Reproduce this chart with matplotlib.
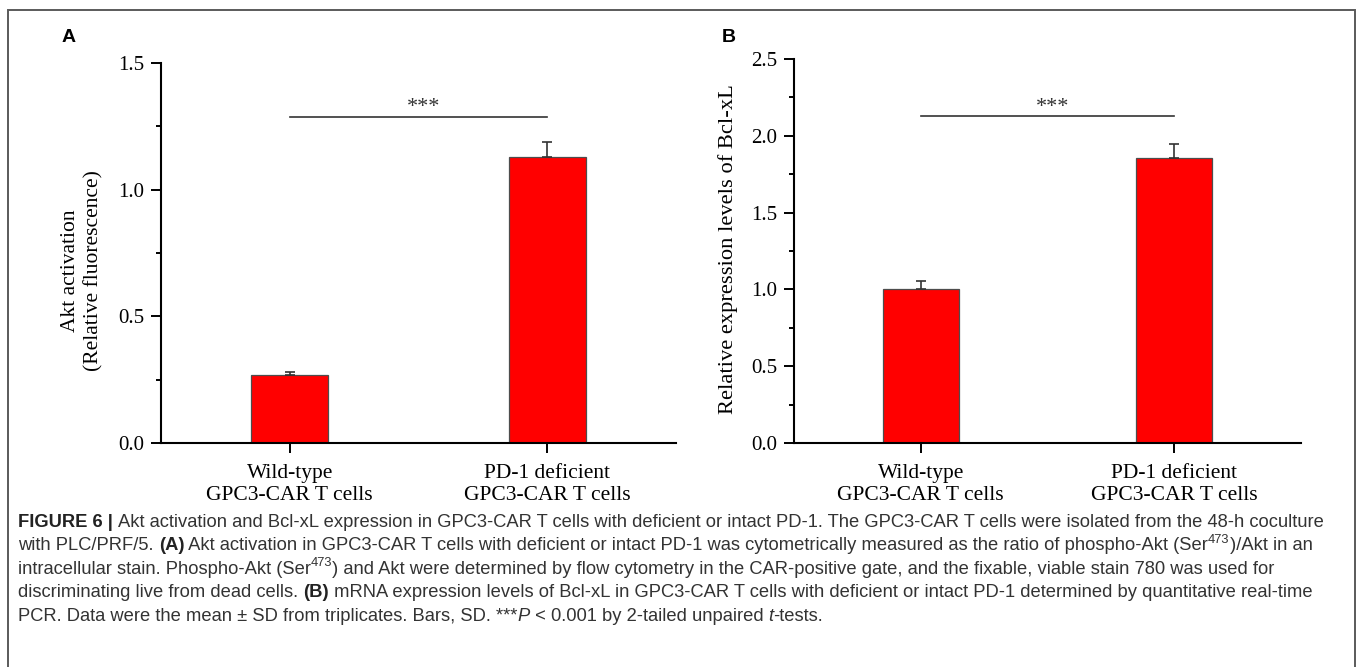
import matplotlib
matplotlib.use("Agg")
import matplotlib.pyplot as plt
from matplotlib.patches import Rectangle
from matplotlib.ticker import MultipleLocator, FormatStrFormatter

# ---------------- data ----------------
categories = ["Wild-type\nGPC3-CAR T cells", "PD-1 deficient\nGPC3-CAR T cells"]
akt_mean = [0.268, 1.130]
akt_sd = [0.011, 0.058]
bcl_mean = [1.000, 1.856]
bcl_sd = [0.052, 0.091]
akt_ylabel = "Akt activation\n(Relative fluorescence)"
bcl_ylabel = "Relative expression levels of Bcl-xL"
sig_text = "***"

W, H = 1358, 667
fig = plt.figure(figsize=(W / 100, H / 100), dpi=100)
fig.patch.set_facecolor("white")

SERIF = ["Liberation Serif", "DejaVu Serif"]
SANS = ["Liberation Sans", "DejaVu Sans"]


def px_ax(left, right, top, bottom):
    return fig.add_axes([left / W, 1 - bottom / H, (right - left) / W, (bottom - top) / H])


def style_axes(ax, ymax, major, minor):
    for s in ("top", "right"):
        ax.spines[s].set_visible(False)
    for s in ("left", "bottom"):
        ax.spines[s].set_linewidth(1.5)
        ax.spines[s].set_color("black")
    ax.set_ylim(0, ymax)
    ax.set_xlim(-0.5, 1.5)
    ax.yaxis.set_major_locator(MultipleLocator(major))
    ax.yaxis.set_minor_locator(MultipleLocator(minor))
    ax.yaxis.set_major_formatter(FormatStrFormatter("%.1f"))
    ax.tick_params(axis="y", which="major", direction="out", length=7.2, width=1.4,
                   pad=5.0, labelsize=15)
    ax.tick_params(axis="y", which="minor", direction="out", length=3.6, width=1.4)
    ax.tick_params(axis="x", which="major", direction="out", length=7.5, width=1.4,
                   pad=7.5, labelsize=15.5)
    ax.set_xticks(range(len(categories)))
    ax.set_xticklabels(categories, linespacing=1.2)
    for lab in ax.get_xticklabels() + ax.get_yticklabels():
        lab.set_fontfamily(SERIF)


def draw_panel(ax, means, sds, ymax, major, minor, sig_y, star_y):
    x = list(range(len(means)))
    ax.bar(x, means, width=0.3, color="#ff0000", edgecolor="#4d4d4d", linewidth=0.9, zorder=2)
    ax.errorbar(x, means, yerr=[[0] * len(sds), sds], fmt="none", ecolor="#333333",
                elinewidth=1.2, capsize=3.8, capthick=1.2, zorder=3)
    style_axes(ax, ymax, major, minor)
    ax.plot([x[0], x[-1]], [sig_y, sig_y], color="#333333", lw=1.2, clip_on=False)
    ax.text((x[0] + x[-1]) / 2 + 0.02, star_y, sig_text, ha="center", va="baseline",
            fontsize=16, color="#333333", family=SERIF)


# Panel A
axA = px_ax(161, 676, 63, 443)
draw_panel(axA, akt_mean, akt_sd, 1.5, 0.5, 0.25, 1.287, 1.305)
axA.text((82 - 161) / 515, (443 - 271) / 380, akt_ylabel, transform=axA.transAxes,
         rotation=90, ha="center", va="center", multialignment="center", fontsize=15.5,
         family=SERIF, linespacing=1.3)

# Panel B
axB = px_ax(794, 1301, 59, 443)
draw_panel(axB, bcl_mean, bcl_sd, 2.5, 0.5, 0.25, 2.13, 2.155)
axB.text((728 - 794) / 507, (443 - 249) / 384, bcl_ylabel, transform=axB.transAxes,
         rotation=90, ha="center", va="center", fontsize=16.2, family=SERIF)

# panel letters
fig.text(62 / W, 1 - 38 / H, "A", fontsize=14, fontweight="bold", family=SANS,
         ha="left", va="center")
fig.text(722 / W, 1 - 37 / H, "B", fontsize=14, fontweight="bold", family=SANS,
         ha="left", va="center")

# border
fig.add_artist(Rectangle((8 / W, -0.1), (1355 - 8) / W, (667 - 10) / H + 0.1,
                         transform=fig.transFigure, fill=False, ec="#5a5a5a", lw=1.4))

# ---------------- caption ----------------
cap_lines = [
    [("FIGURE 6 | ", "b"), ("Akt activation and Bcl-xL expression in GPC3-CAR T cells with deficient or intact PD-1. The GPC3-CAR T cells were isolated from the 48-h coculture", "n")],
    [("with PLC/PRF/5. ", "n"), ("(A)", "b"), (" Akt activation in GPC3-CAR T cells with deficient or intact PD-1 was cytometrically measured as the ratio of phospho-Akt (Ser", "n"), ("473", "sup"), (")/Akt in an", "n")],
    [("intracellular stain. Phospho-Akt (Ser", "n"), ("473", "sup"), (") and Akt were determined by flow cytometry in the CAR-positive gate, and the fixable, viable stain 780 was used for", "n")],
    [("discriminating live from dead cells. ", "n"), ("(B)", "b"), (" mRNA expression levels of Bcl-xL in GPC3-CAR T cells with deficient or intact PD-1 determined by quantitative real-time", "n")],
    [("PCR. Data were the mean \u00b1 SD from triplicates. Bars, SD. ***", "n"), ("P", "i"), (" < 0.001 by 2-tailed unpaired ", "n"), ("t", "i"), ("-tests.", "n")],
]

renderer = fig.canvas.get_renderer()


def run_kw(style, size):
    kw = dict(family=SANS, color="#333333", fontsize=size)
    if style == "b":
        kw.update(fontweight="bold", color="#222222")
    elif style == "i":
        kw.update(fontstyle="italic")
    elif style == "sup":
        kw.update(fontsize=size * 0.7)
    return kw


def run_width(text, style, size):
    t1 = fig.text(0, 0, text + "|", **run_kw(style, size))
    t2 = fig.text(0, 0, "|", **run_kw(style, size))
    w = t1.get_window_extent(renderer).width - t2.get_window_extent(renderer).width
    t1.remove()
    t2.remove()
    return w


def line_width(runs, size):
    return sum(run_width(t, s, size) for t, s in runs)


cap_left, cap_right = 18, 1330
base = 10.0
w0 = line_width(cap_lines[0], base)
cap_size = base * (cap_right - cap_left) / w0

first_y, spacing = 522, 23.5
for i, runs in enumerate(cap_lines):
    x = cap_left
    ybase = H - (first_y + i * spacing) - cap_size * 0.35
    for text, style in runs:
        kw = run_kw(style, cap_size)
        yy = ybase + (cap_size * 0.55 if style == "sup" else 0)
        fig.text(x / W, yy / H, text, ha="left", va="baseline", **kw)
        x += run_width(text, style, cap_size)

fig.savefig("out.png", dpi=100)
